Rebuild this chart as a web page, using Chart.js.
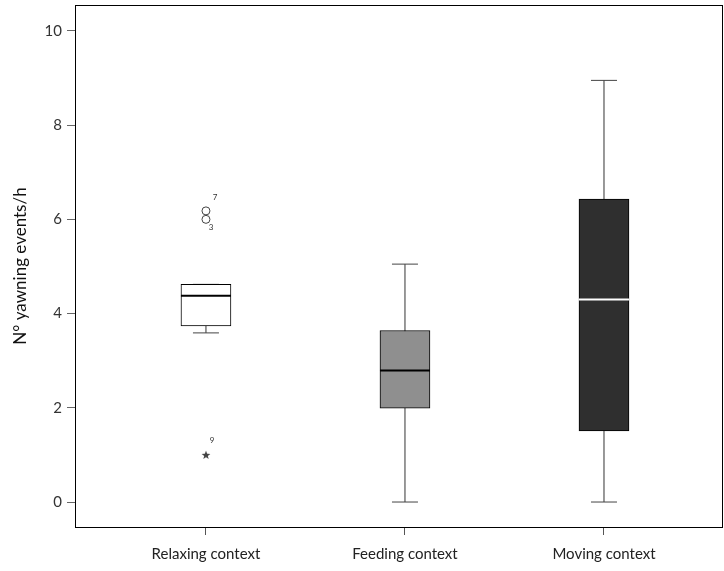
<!DOCTYPE html>
<html>
<head>
<meta charset="utf-8">
<script src="https://cdn.jsdelivr.net/npm/chart.js@4"></script>
<style>
  body { margin: 0; background: #fff; }
</style>
</head>
<body>
<canvas id="chart" width="724" height="571"></canvas>
<script>
// data
var categories = ['Relaxing context', 'Feeding context', 'Moving context'];
var whiskerLow = [3.59, 0, 0];
var q1 = [3.74, 1.99, 1.51];
var median = [4.38, 2.79, 4.30];
var q3 = [4.62, 3.64, 6.43];
var whiskerHigh = [4.62, 5.05, 8.95];
var yTicks = [0, 2, 4, 6, 8, 10];

// outliers (circle) and extremes (star), with case numbers
var outlierCat = [1, 1];
var outlierVal = [6.18, 6.0];
var outlierLabel = ['7', '3'];
var extremeCat = [1];
var extremeVal = [1.0];
var extremeLabel = ['9'];

var boxColors = ['#ffffff', '#8f8f8f', '#2f2f2f'];
var medianColors = ['#000000', '#000000', '#ffffff'];

var boxData = categories.map(function (c, i) { return { x: i + 1, y: [q1[i], q3[i]] }; });

var whiskerData = [];
categories.forEach(function (c, i) {
    whiskerData.push({ x: i + 1, y: whiskerLow[i] });
    whiskerData.push({ x: i + 1, y: whiskerHigh[i] });
    whiskerData.push({ x: i + 1, y: null });
});

var capData = [];
categories.forEach(function (c, i) {
    capData.push({ x: i + 1, y: whiskerLow[i] });
    capData.push({ x: i + 1, y: whiskerHigh[i] });
});

var medianData = categories.map(function (c, i) { return { x: i + 1, y: median[i] }; });
var outlierData = outlierVal.map(function (v, i) { return { x: outlierCat[i], y: v }; });
var extremeData = extremeVal.map(function (v, i) { return { x: extremeCat[i], y: v }; });

// five point star used for the extreme value
var starImg = document.createElement('canvas');
starImg.width = 10;
starImg.height = 10;
(function () {
    var c = starImg.getContext('2d');
    c.beginPath();
    for (var k = 0; k < 10; k++) {
        var r = k % 2 === 0 ? 4.6 : 1.9;
        var ang = -Math.PI / 2 + k * Math.PI / 5;
        var px = 5 + r * Math.cos(ang), py = 5.3 + r * Math.sin(ang);
        if (k === 0) c.moveTo(px, py); else c.lineTo(px, py);
    }
    c.closePath();
    c.fillStyle = '#444';
    c.fill();
})();

// label offsets for the case numbers
var labelOffsets = { '7': [9, -13], '3': [5, 8], '9': [6, -14] };

var frameAndLabels = {
    id: 'frameAndLabels',
    afterDatasetsDraw: function (chart) {
        var ctx = chart.ctx;
        ctx.save();
        ctx.font = '8px Lato';
        ctx.fillStyle = '#333';
        ctx.textAlign = 'center';
        ctx.textBaseline = 'middle';
        [[3, outlierLabel], [4, extremeLabel]].forEach(function (pair) {
            var meta = chart.getDatasetMeta(pair[0]);
            meta.data.forEach(function (pt, i) {
                var lab = pair[1][i];
                var off = labelOffsets[lab] || [7, -12];
                ctx.fillText(lab, pt.x + off[0], pt.y + off[1]);
            });
        });
        var a = chart.chartArea;
        ctx.strokeStyle = '#000';
        ctx.lineWidth = 1;
        ctx.strokeRect(Math.round(a.left) + 0.5, Math.round(a.top) + 0.5,
            Math.round(a.right - a.left) - 1, Math.round(a.bottom - a.top));
        ctx.restore();
    }
};

new Chart(document.getElementById('chart').getContext('2d'), {
    type: 'bar',
    data: {
        datasets: [
            {
                type: 'bar',
                data: boxData,
                backgroundColor: boxColors,
                borderColor: '#000',
                borderWidth: 1,
                borderSkipped: false,
                barThickness: 50,
                order: 2
            },
            {
                type: 'scatter',
                data: whiskerData,
                showLine: true,
                spanGaps: false,
                borderColor: '#333',
                borderWidth: 1,
                pointRadius: 0,
                order: 4
            },
            {
                type: 'scatter',
                data: capData,
                pointStyle: 'line',
                pointRadius: 13,
                borderColor: '#444',
                borderWidth: 1,
                order: 3
            },
            {
                type: 'scatter',
                data: outlierData,
                pointStyle: 'circle',
                pointRadius: 4,
                backgroundColor: 'rgba(0,0,0,0)',
                borderColor: '#444',
                borderWidth: 1,
                order: 1
            },
            {
                type: 'scatter',
                data: extremeData,
                pointStyle: starImg,
                pointRadius: 5,
                order: 1
            },
            {
                type: 'scatter',
                data: medianData,
                pointStyle: 'line',
                pointRadius: 25,
                borderColor: medianColors,
                borderWidth: 2,
                order: 0
            }
        ]
    },
    options: {
        responsive: false,
        animation: false,
        events: [],
        layout: { autoPadding: false, padding: { top: 5, right: 1 } },
        plugins: { legend: { display: false }, tooltip: { enabled: false } },
        scales: {
            x: {
                type: 'linear',
                min: 0.342,
                max: 3.598,
                offset: false,
                afterBuildTicks: function (axis) {
                    axis.ticks = categories.map(function (c, i) { return { value: i + 1 }; });
                },
                afterFit: function (axis) { axis.height = 44; axis.paddingLeft = 0; axis.paddingRight = 0; },
                ticks: {
                    callback: function (v) { return categories[v - 1]; },
                    color: '#222',
                    font: { family: 'Lato', size: 15 },
                    padding: 10,
                    maxRotation: 0
                },
                grid: { display: true, drawOnChartArea: false, offset: false, tickLength: 8, color: '#555' },
                border: { display: false }
            },
            y: {
                min: -0.53,
                max: 10.55,
                afterBuildTicks: function (axis) {
                    axis.ticks = yTicks.map(function (v) { return { value: v }; });
                },
                afterFit: function (axis) { axis.width = 75; axis.paddingTop = 0; axis.paddingBottom = 0; },
                ticks: {
                    color: '#333',
                    font: { family: 'Lato', size: 15 },
                    padding: 5
                },
                grid: { display: true, drawOnChartArea: false, tickLength: 8, color: '#666' },
                border: { display: false },
                title: {
                    display: true,
                    text: 'N° yawning events/h',
                    color: '#111',
                    font: { family: 'Lato', size: 17 },
                    padding: { top: 10, bottom: 0 }
                }
            }
        }
    },
    plugins: [frameAndLabels]
});
</script>
</body>
</html>
